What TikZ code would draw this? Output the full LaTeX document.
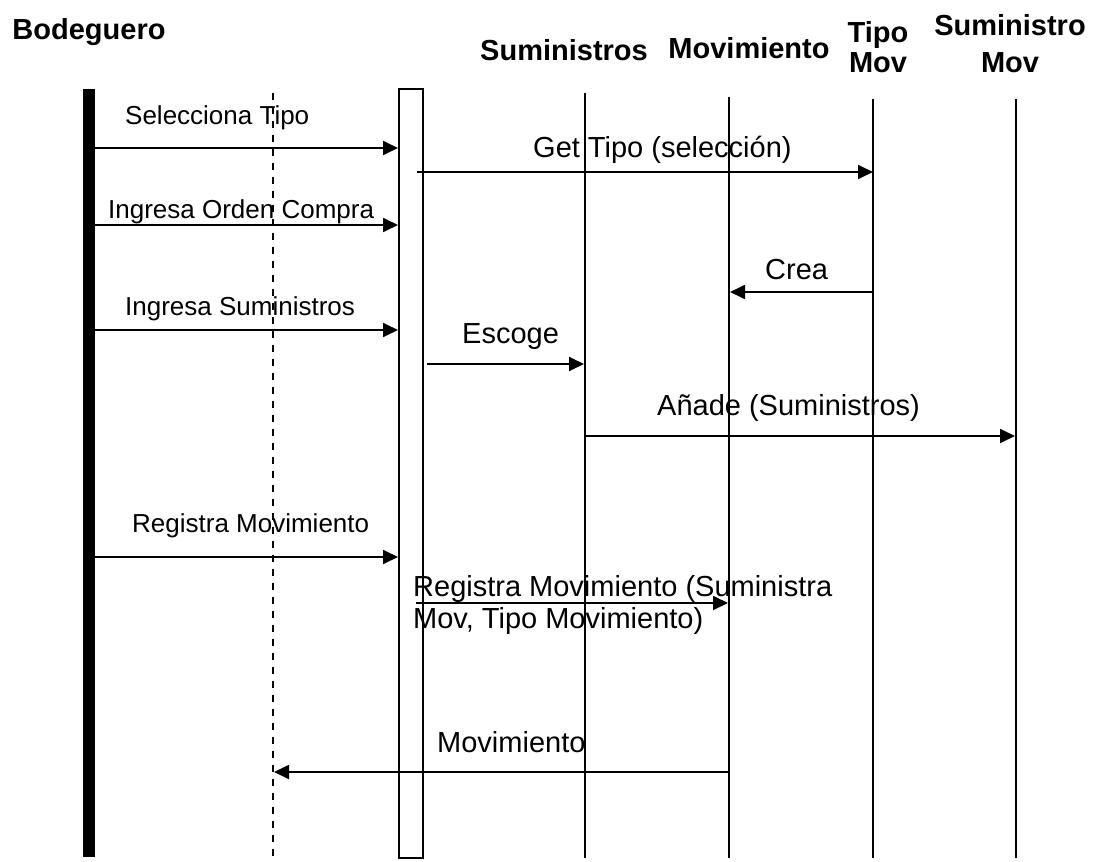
\documentclass[tikz,border=0pt]{standalone}
\usepackage{fontspec}
\setmainfont{Liberation Sans}
\usetikzlibrary{arrows.meta}

\begin{document}
\begin{tikzpicture}[x=1pt,y=-1pt,
    msg/.style={-{Triangle[length=15pt,width=14pt]},line width=1.8pt},
    life/.style={line width=1.8pt},
    actor/.style={line width=12pt},
    lbl/.style={anchor=base west,inner sep=0pt,font=\fontsize{26}{31}\selectfont},
    lblbig/.style={anchor=base west,inner sep=0pt,font=\fontsize{29}{32}\selectfont},
    head/.style={anchor=base,inner sep=0pt,align=center,font=\fontsize{29}{30}\selectfont\bfseries}]
    \useasboundingbox (0,0) rectangle (1095,862);
    % encabezados
    \node[head] (bodeguero) at (89,39) {Bodeguero};
    \node[head] (suministros) at (564,60) {Suministros};
    \node[head] (movimiento) at (749,58) {Movimiento};
    \node[head] (tipomov) at (878,72) {Tipo\\Mov};
    \node[head] (summov) at (1010,72) {Suministro\\[7pt]Mov};
    % lineas de vida
    \coordinate (bod-t) at (89,89);   \coordinate (bod-b) at (89,857);
    \coordinate (dsh-t) at (273,93);  \coordinate (dsh-b) at (273,857);
    \coordinate (ctl-t) at (399,89);  \coordinate (ctl-b) at (423,858);
    \coordinate (sum-t) at (585,93);  \coordinate (sum-b) at (585,858);
    \coordinate (mov-t) at (729,97);  \coordinate (mov-b) at (729,858);
    \coordinate (tip-t) at (873,99);  \coordinate (tip-b) at (873,858);
    \coordinate (smv-t) at (1016,99); \coordinate (smv-b) at (1016,858);
    \draw[actor] (bod-t) -- (bod-b);
    \draw[line width=2.2pt,dash pattern=on 7pt off 7pt] (dsh-t) -- (dsh-b);
    \draw[line width=1.8pt] (ctl-t) rectangle (ctl-b);
    \draw[life] (sum-t) -- (sum-b);
    \draw[life] (mov-t) -- (mov-b);
    \draw[life] (tip-t) -- (tip-b);
    \draw[life] (smv-t) -- (smv-b);
    % mensajes
    \coordinate (sel-a) at (95,148);  \coordinate (sel-b) at (398,148);
    \coordinate (get-a) at (417,172); \coordinate (get-b) at (873,172);
    \coordinate (ord-a) at (95,225);  \coordinate (ord-b) at (398,225);
    \coordinate (cre-a) at (873,292); \coordinate (cre-b) at (730,292);
    \coordinate (ing-a) at (95,330);  \coordinate (ing-b) at (398,330);
    \coordinate (esc-a) at (427,364); \coordinate (esc-b) at (584,364);
    \coordinate (ana-a) at (585,436); \coordinate (ana-b) at (1015,436);
    \coordinate (reg-a) at (95,557);  \coordinate (reg-b) at (398,557);
    \coordinate (rgm-a) at (416,603); \coordinate (rgm-b) at (728,603);
    \coordinate (mvt-a) at (729,772); \coordinate (mvt-b) at (274,772);
    \path[msg] (sel-a) edge (sel-b)
               (get-a) edge (get-b)
               (ord-a) edge (ord-b)
               (cre-a) edge (cre-b)
               (ing-a) edge (ing-b)
               (esc-a) edge (esc-b)
               (ana-a) edge (ana-b)
               (reg-a) edge (reg-b)
               (rgm-a) edge (rgm-b)
               (mvt-a) edge (mvt-b);
    % etiquetas
    \node[lbl] (selecciona) at (125,124) {Selecciona Tipo};
    \node[lblbig] (gettipo) at (533,157) {Get Tipo (selección)};
    \node[lbl] (orden) at (108,218) {Ingresa Orden Compra};
    \node[lblbig] (crea) at (765,279) {Crea};
    \node[lbl] (ingresa) at (125,315) {Ingresa Suministros};
    \node[lblbig] (escoge) at (462,343) {Escoge};
    \node[lblbig] (anade) at (657,415) {Añade (Suministros)};
    \node[lbl] (registra) at (132,532) {Registra Movimiento};
    \node[lblbig,align=left] (registramov) at (413,628) {Registra Movimiento (Suministra\\Mov, Tipo Movimiento)};
    \node[lblbig] (movim) at (437,752) {Movimiento};
\end{tikzpicture}
\end{document}
